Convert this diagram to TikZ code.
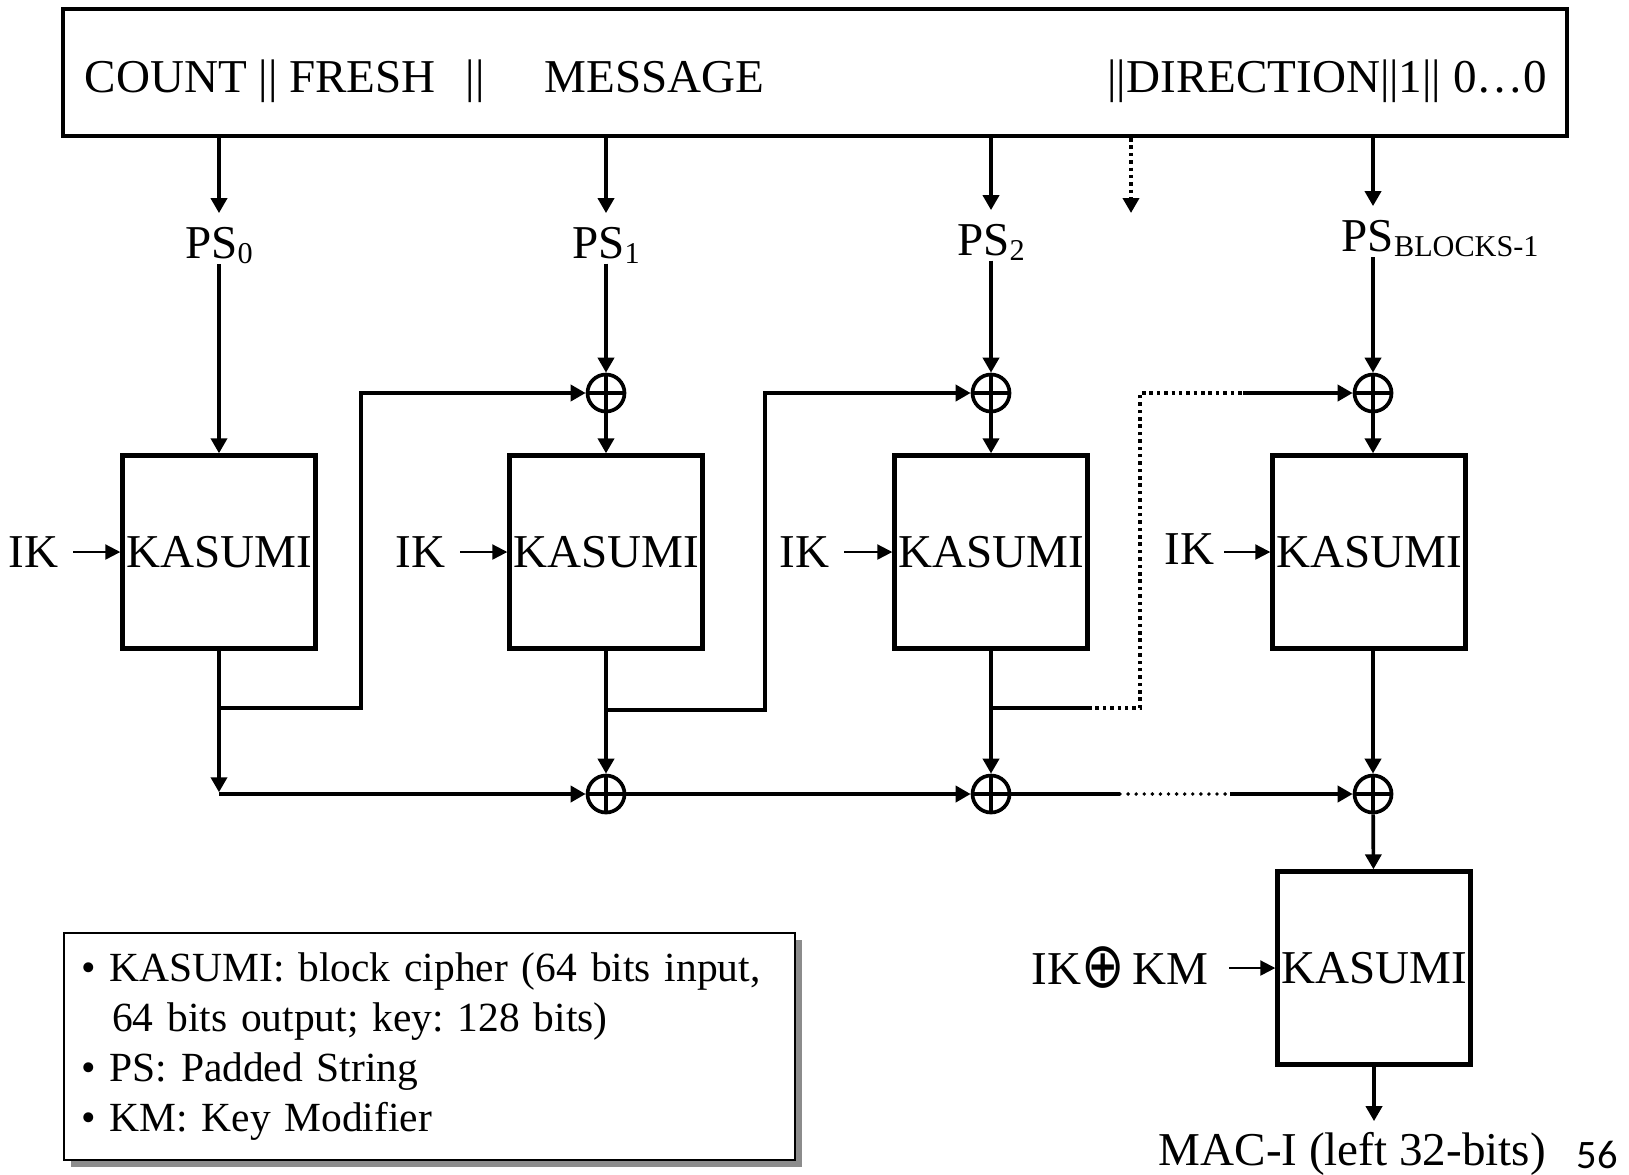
\documentclass[tikz,border=0pt]{standalone}
\usepackage{fontspec}
\setmainfont{Liberation Serif}
\newfontfamily\symfont{DejaVu Sans}
\newfontfamily\slidefont{Carlito}
\usetikzlibrary{arrows.meta,calc,positioning,shadows}
\frenchspacing
\newcommand{\psub}[1]{{\fontsize{8.6pt}{8.6pt}\selectfont\raisebox{-0.05cm}{#1}}}

\begin{document}
\begin{tikzpicture}[>={Triangle[length=0.15cm,width=0.16cm]},
  every node/.style={font=\fontsize{13.4pt}{16pt}\selectfont},
  wire/.style={line width=1.05pt},
  dotwire/.style={line width=1.1pt,dash pattern=on 1pt off 1.1pt},
  dotrow/.style={line width=1.1pt,line cap=round,dash pattern=on 0pt off 2.3pt},
  keyarrow/.style={->,line width=0.6pt,>={Triangle[length=0.15cm,width=0.15cm]}},
  lbl/.style={inner sep=0pt},
  kbox/.style={draw,line width=1.25pt,minimum width=1.93cm,minimum height=1.93cm,
               inner sep=0pt},
  xor/.style={draw,circle,line width=1.05pt,minimum size=0.37cm,inner sep=0pt,
    path picture={\draw[line width=1.05pt]
      (path picture bounding box.north) -- (path picture bounding box.south)
      (path picture bounding box.west) -- (path picture bounding box.east);}}]
 \useasboundingbox (0,0) rectangle (16.29,-11.74);

 % input string
 \node[draw,line width=1.15pt,minimum width=15.04cm,minimum height=1.27cm]
    (msg) at (8.15,-0.725) {};
 \node[lbl,anchor=base west] (count) at (0.84,-0.92)
    {COUNT || FRESH\hspace{0.3cm}||};
 \node[lbl,anchor=base west] (message) at (5.44,-0.92) {MESSAGE};
 \node[lbl,anchor=base east] (direction) at (15.48,-0.92)
    {||DIRECTION||1|| 0…0};

 % cipher blocks
 \node[kbox] (k0) at (2.19,-5.52) {KASUMI};
 \node[kbox] (k1) at (6.06,-5.52) {KASUMI};
 \node[kbox] (k2) at (9.91,-5.52) {KASUMI};
 \node[kbox] (k3) at (13.69,-5.52) {KASUMI};
 \node[kbox] (k4) at (13.74,-9.68) {KASUMI};

 % padded strings
 \node[lbl,anchor=base] (ps0) at (2.19,-2.58) {PS\psub{0}};
 \node[lbl,anchor=base] (ps1) at (6.06,-2.58) {PS\psub{1}};
 \node[lbl,anchor=base] (ps2) at (9.91,-2.55) {PS\psub{2}};
 \node[lbl,anchor=base west] (ps3) at (13.41,-2.51) {PS\psub{BLOCKS-1}};

 % xor gates
 \node[xor] (x1) at (6.06,-3.93) {};
 \node[xor] (x2) at (9.91,-3.93) {};
 \node[xor] (x3) at (13.73,-3.93) {};
 \node[xor] (y1) at (6.06,-7.94) {};
 \node[xor] (y2) at (9.91,-7.94) {};
 \node[xor] (y3) at (13.73,-7.94) {};

 % keys
 \node[lbl,left=0.61cm of k0] (ik0) {IK};
 \node[lbl,left=0.61cm of k1] (ik1) {IK};
 \node[lbl,left=0.62cm of k2] (ik2) {IK};
 \node[lbl,left=0.55cm of k3,yshift=0.03cm] (ik3) {IK};
 \node[lbl,left=0.66cm of k4,text height=0.33cm,text depth=0pt]
    (ikm) {IK\raisebox{-0.03cm}{\scalebox{1.1}[1.35]{\symfont ⊕}}\,KM};
 \draw[keyarrow,shorten <=0.14cm] (ik0) -- (k0);
 \draw[keyarrow,shorten <=0.14cm] (ik1) -- (k1);
 \draw[keyarrow,shorten <=0.14cm] (ik2) -- (k2);
 \draw[keyarrow,shorten <=0.09cm] (ik3.east |- k3) -- (k3);
 \draw[keyarrow,shorten <=0.2cm] (ikm) -- (k4);

 % from the string to the blocks
 \draw[wire,->,shorten >=0.13cm] (msg.south -| k0) -- (k0 |- ps0.north);
 \draw[wire,->,shorten >=0.13cm] (msg.south -| k1) -- (k1 |- ps1.north);
 \draw[wire,->,shorten >=0.13cm] (msg.south -| k2) -- (k2 |- ps2.north);
 \draw[wire,->,shorten >=0.13cm] (msg.south -| x3) -- (x3 |- ps3.north);
 \coordinate (more) at (11.31,-2.13);
 \draw[dotwire,->] (msg.south -| more) -- (more);
 \draw[wire,->] (k0 |- ps0.south) -- (k0);
 \draw[wire,->] (k1 |- ps1.south) -- (x1);
 \draw[wire,->] (k2 |- ps2.south) -- (x2);
 \draw[wire,->] (x3 |- ps3.south) -- (x3);
 \draw[wire,->] (x1) -- (k1);
 \draw[wire,->] (x2) -- (k2);
 \draw[wire,->] (x3) -- (x3 |- k3.north);

 % chaining
 \coordinate (b0) at (2.19,-7.08);
 \coordinate (b1) at (6.06,-7.10);
 \coordinate (b2) at (9.91,-7.08);
 \draw[wire,->] (b0) -- ++(1.42,0) |- (x1);
 \draw[wire,->] (b1) -- ++(1.59,0) |- (x2);
 \draw[wire] (b2) -- ++(0.97,0) coordinate (b2s);
 \coordinate (b2e) at (12.43,-3.93);
 \draw[dotwire] (b2s) -- ++(0.52,0) |- (b2e);
 \draw[wire,->] (b2e) -- (x3);

 % accumulation
 \coordinate (j0) at (k0 |- y1);
 \coordinate (g1) at (11.20,-7.94);
 \coordinate (g2) at (12.30,-7.94);
 \draw[wire,->,shorten >=0.5pt] (k0) -- (j0);
 \draw[wire,->] (j0) -- (y1);
 \draw[wire,->] (k1) -- (y1);
 \draw[wire,->] (k2) -- (y2);
 \draw[wire,->] (y3 |- k3.south) -- (y3);
 \draw[wire,->] (y1) -- (y2);
 \draw[wire] (y2) -- (g1);
 \draw[dotrow] (g1) -- (g2);
 \draw[wire,->] (g2) -- (y3);
 \draw[wire,->] (y3) -- (k4);

 % output
 \node[lbl,anchor=base west] (mac) at (11.58,-11.65) {MAC-I (left 32-bits)};
 \draw[wire,->,shorten >=0.1cm] (k4) -- (k4 |- mac.north);
 \node[lbl,anchor=base west,font=\slidefont\fontsize{11.5pt}{12pt}\selectfont]
    (page) at (15.76,-11.68) {56};

 % legend
 \node[draw,line width=0.7pt,fill=white,anchor=north west,
   drop shadow={shadow xshift=0.07cm,shadow yshift=-0.07cm,fill=black,opacity=0.45},
   text width=6.97cm,minimum height=2.27cm,inner xsep=0.17cm,align=left,
   font=\fontsize{11.8pt}{14.2pt}\selectfont] (legend) at (0.63,-9.32)
   {• KASUMI: block cipher (64 bits input,\\
    \hspace*{0.31cm}64 bits output; key: 128 bits)\\
    • PS: Padded String\\
    • KM: Key Modifier};
\end{tikzpicture}
\end{document}
